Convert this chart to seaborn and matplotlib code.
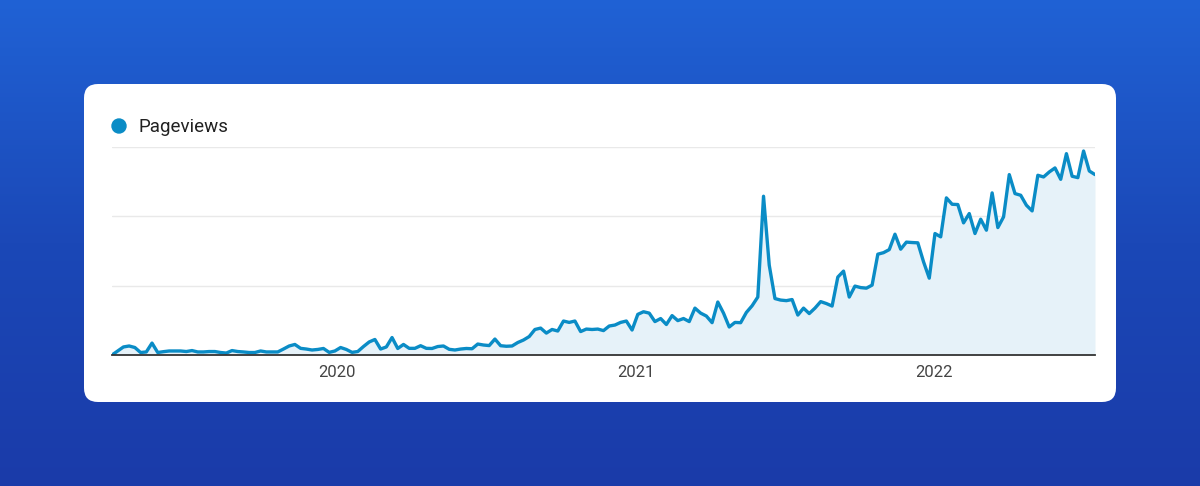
# Pageviews card - weekly Pageviews over time
import matplotlib.pyplot as plt
import seaborn as sns
import pandas as pd
import numpy as np
from matplotlib.patches import FancyBboxPatch, Circle
from matplotlib.colors import LinearSegmentedColormap

# weekly pageviews
pageviews = [
    0, 29, 58, 65, 54, 18, 22, 86, 18, 24,
    29, 29, 29, 25, 32, 22, 22, 25, 25, 18,
    14, 32, 25, 22, 18, 18, 29, 22, 22, 22,
    43, 65, 76, 48, 43, 36, 40, 47, 19, 29,
    54, 40, 19, 25, 61, 94, 112, 43, 58, 126,
    47, 76, 48, 48, 67, 48, 47, 61, 65, 41,
    36, 43, 47, 45, 79, 72, 68, 115, 67, 63,
    65, 90, 108, 133, 184, 194, 158, 184, 173, 245,
    235, 245, 169, 187, 184, 187, 176, 209, 216, 235,
    245, 180, 293, 312, 302, 241, 263, 220, 284, 248,
    263, 241, 338, 302, 281, 233, 382, 302, 202, 235,
    233, 307, 355, 418, 1145, 648, 407, 396, 392, 400,
    288, 338, 299, 338, 385, 371, 353, 562, 605, 418,
    497, 486, 482, 504, 727, 738, 760, 871, 763, 814,
    811, 809, 672, 554, 876, 852, 1133, 1087, 1085, 953,
    1020, 876, 979, 900, 1169, 919, 996, 1301, 1164, 1152,
    1080, 1039, 1296, 1284, 1320, 1349, 1267, 1452, 1289, 1279,
    1471, 1327, 1301,
]
first_week = "2019-03-31"
year_ticks = ["2020-01-01", "2021-01-01", "2022-01-01"]
year_labels = ["2020", "2021", "2022"]
grid_levels = [500, 1000, 1500]

weeks = pd.date_range(first_week, periods=len(pageviews), freq="W-SUN")
df = pd.DataFrame({"week": weeks, "Pageviews": pageviews})

sns.set_theme(style="white")
plt.rcParams["font.family"] = ["Roboto", "DejaVu Sans"]

fig = plt.figure(figsize=(12, 4.86), dpi=100)

# blue backdrop + white card (pixel coordinates)
bg = fig.add_axes([0, 0, 1, 1])
grad = np.linspace(0, 1, 256).reshape(-1, 1)
cmap = LinearSegmentedColormap.from_list("bg", ["#2062d5", "#1b48b7", "#1a3ba9"])
bg.imshow(grad, cmap=cmap, aspect="auto", extent=[0, 1200, 486, 0])
bg.set_xlim(0, 1200)
bg.set_ylim(486, 0)
bg.axis("off")
card = FancyBboxPatch((84, 84), 1032, 318, boxstyle="round,pad=0,rounding_size=14",
                      facecolor="white", edgecolor="none")
bg.add_patch(card)
bg.add_patch(Circle((119, 126), 7, color="#0a8cc6"))
bg.text(138, 127, "Pageviews", va="center", ha="left", fontsize=13.5, color="#212121")

# chart
ax = fig.add_axes([112 / 1200, 1 - 355 / 486, 983 / 1200, 208 / 486])
ax.set_facecolor("none")
ax.fill_between(df["week"], df["Pageviews"], color="#e6f2f9", lw=0)
sns.lineplot(data=df, x="week", y="Pageviews", ax=ax, color="#0a8cc6", lw=2.4)
ax.set_xlim(weeks[0], weeks[-1])
ax.set_ylim(0, 1500)
ax.set_yticks(grid_levels)
ax.set_yticklabels([])
ax.yaxis.grid(True, color="#e9e9e9", lw=1)
ax.set_xticks(pd.to_datetime(year_ticks))
ax.set_xticklabels(year_labels, fontsize=12, color="#444444")
ax.tick_params(axis="both", length=0)
ax.tick_params(axis="x", pad=7)
ax.set_xlabel("")
ax.set_ylabel("")
for s in ["top", "left", "right"]:
    ax.spines[s].set_visible(False)
ax.spines["bottom"].set_color("#333333")
ax.spines["bottom"].set_linewidth(1.3)

fig.savefig("out.png", dpi=100)
